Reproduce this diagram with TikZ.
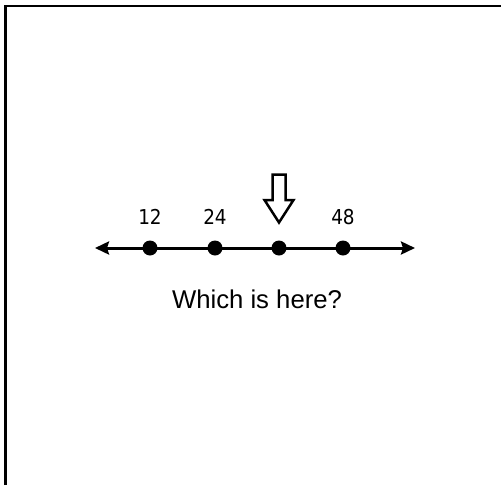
\documentclass[tikz,border=0pt]{standalone}
\usepackage{fontspec}
\setmainfont{Liberation Sans}
\newfontfamily\numfont{DejaVu Sans Condensed}
\usetikzlibrary{arrows.meta,positioning}

\begin{document}
\begin{tikzpicture}[x=1pt, y=-1pt,
      dot/.style={circle, fill, inner sep=0pt, minimum size=15pt},
      num/.style={inner sep=0pt, font=\numfont\fontsize{20.5}{22}\selectfont},
      >={Stealth[length=14pt, width=13pt, inset=2pt]}]
    \useasboundingbox (0,0) rectangle (501,485);
    \draw[line width=2.7pt] (5.3,485) -- (5.3,6) -- (501,6);
    \coordinate (lend) at (95,248);
    \coordinate (rend) at (415,248);
    \draw[<->, line width=3pt] (lend) -- (rend);
    \node[dot] (d1) at (150,248) {};
    \node[dot] (d2) at (215,248) {};
    \node[dot] (d3) at (279,248) {};
    \node[dot] (d4) at (343,248) {};
    \node[num, above=15.5pt of d1] (n12) {12};
    \node[num, above=15.5pt of d2] (n24) {24};
    \node[num, above=15.5pt of d4] (n48) {48};
    % pointer above the third point
    \draw[line width=2.5pt] (272.5,174.5) -- (285.5,174.5) -- (285.5,200)
      -- (293.5,200) -- (279,222.5) -- (264.5,200) -- (272.5,200) -- cycle;
    \node[anchor=base, font=\fontsize{25.7}{30}\selectfont] (q) at (257,308)
      {Which is here?};
  \end{tikzpicture}
\end{document}
